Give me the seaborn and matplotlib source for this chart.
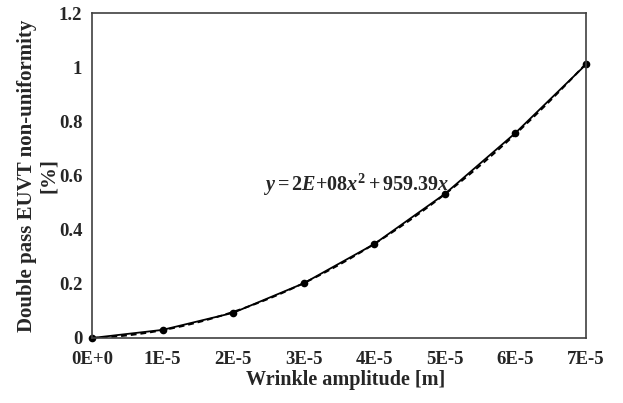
import numpy as np
import pandas as pd
import matplotlib
matplotlib.use("Agg")
import matplotlib.pyplot as plt
import seaborn as sns

amplitude = [0.0, 1e-5, 2e-5, 3e-5, 4e-5, 5e-5, 6e-5, 7e-5]
nonuniformity = [0.0, 0.030, 0.093, 0.202, 0.347, 0.532, 0.757, 1.010]
xtick_labels = ["0E+0", "1E-5", "2E-5", "3E-5", "4E-5", "5E-5", "6E-5", "7E-5"]
ytick_labels = ["0", "0.2", "0.4", "0.6", "0.8", "1", "1.2"]
equation = (r"$\mathit{y} = 2\mathit{E}{+}08\mathit{x}^{2} + 959.39\mathit{x}$")

df = pd.DataFrame({"x": amplitude, "y": nonuniformity})

sns.set_theme(style="white")
plt.rcParams["font.family"] = ["Liberation Serif", "DejaVu Serif"]
plt.rcParams["font.weight"] = "bold"
plt.rcParams["mathtext.fontset"] = "custom"
plt.rcParams["mathtext.rm"] = "Liberation Serif:bold"
plt.rcParams["mathtext.it"] = "Liberation Serif:bold:italic"
plt.rcParams["mathtext.bf"] = "Liberation Serif:bold"
plt.rcParams["mathtext.default"] = "rm"

fig = plt.figure(figsize=(6.23, 4.03), dpi=100)
ax = fig.add_axes([92 / 623, 1 - 338 / 403, (586 - 92) / 623, (338 - 13) / 403])

# quadratic trendline through origin fitted to the data
X = np.column_stack([df["x"] ** 2, df["x"]])
coef, *_ = np.linalg.lstsq(X, df["y"], rcond=None)
xs = np.linspace(0, 7e-5, 200)
trend = pd.DataFrame({"x": xs, "y": coef[0] * xs ** 2 + coef[1] * xs})
sns.lineplot(data=trend, x="x", y="y", ax=ax, color="black", lw=1.4, ls=(0, (3, 2)))
sns.lineplot(data=df, x="x", y="y", ax=ax, color="black", lw=1.3, marker="o",
             markersize=5.5, markeredgewidth=0, clip_on=False)

ax.set_xlim(0, 7e-5)
ax.set_ylim(0, 1.2)
ax.set_xticks(amplitude)
ax.set_xticklabels(xtick_labels, fontsize=13.5, fontweight="bold")
ax.set_yticks([0, 0.2, 0.4, 0.6, 0.8, 1.0, 1.2])
ax.set_yticklabels(ytick_labels, fontsize=13.5, fontweight="bold")
ax.tick_params(axis="x", length=0, pad=9)
ax.tick_params(axis="y", length=0, pad=7)
ax.set_xlabel("Wrinkle amplitude [m]", fontsize=14.5, fontweight="bold")
ax.xaxis.set_label_coords(0.514, -0.1)
ax.set_ylabel("Double pass EUVT non-uniformity\n[%]", fontsize=15, fontweight="bold",
              linespacing=1.15)
ax.yaxis.set_label_coords(-0.067, 0.5)
for s in ax.spines.values():
    s.set_color("#404040")
    s.set_linewidth(1.2)

ax.text(2.42e-5, 0.565, equation, fontsize=14.5, va="center", ha="left")

fig.savefig("out.png", dpi=100)
